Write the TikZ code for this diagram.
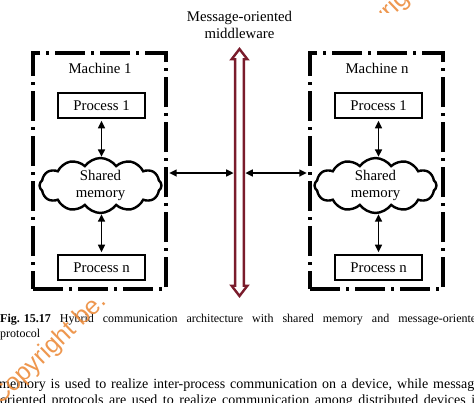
\documentclass[tikz,border=0pt]{standalone}
\usepackage{fontspec}
\setmainfont{Liberation Serif}
\newfontfamily\wmfont{Liberation Sans}
\usetikzlibrary{shapes.symbols,shapes.arrows,arrows.meta}
\definecolor{momred}{RGB}{122,28,44}
\definecolor{wmorange}{RGB}{236,140,60}
\newcommand\dlabelfont{\fontsize{14.8}{17}\selectfont}
\newcommand\dcapfont{\fontsize{12}{14}\selectfont}
\newcommand\dbodyfont{\fontsize{14}{16}\selectfont}
\begin{document}
\begin{tikzpicture}[x=1pt,y=-1pt,
  machine/.style={draw, line width=3.2pt, dash pattern=on 30pt off 6pt on 3pt off 6pt,
    minimum width=133pt, minimum height=236pt, inner sep=0pt},
  proc/.style={draw, line width=2.8pt, minimum width=87pt, minimum height=25pt,
    inner sep=0pt, font=\dlabelfont},
  mem/.style={cloud, draw, line width=2.4pt, cloud puffs=12, cloud puff arc=110,
    aspect=2.3, minimum width=122pt, minimum height=54pt, inner sep=0pt,
    align=center, font=\dlabelfont},
  link/.style={{Triangle[length=7.5pt,width=7pt]}-{Triangle[length=7.5pt,width=7pt]},
    line width=1.5pt},
  plain/.style={inner sep=0pt, font=\dlabelfont, align=center},
  watermark/.style={rotate=44, anchor=base west, inner sep=0pt, text=wmorange,
    opacity=.9, font=\wmfont\fontsize{25}{25}\selectfont},
  textline/.style={anchor=base west, inner sep=0pt}
]
\useasboundingbox (0,0) rectangle (474,402);

% title
\node[plain] (title) at (239.5,24.5) {Message-oriented\\middleware};

% machines
\node[machine] (m1) at (99.5,171) {};
\node[machine] (mn) at (376.5,171) {};
\node[plain] (lab1) at (100,68) {Machine 1};
\node[plain] (labn) at (377,68) {Machine n};

% processes
\node[proc] (p11) at (101.5,105.5) {Process 1};
\node[proc] (p1n) at (101.5,267.5) {Process n};
\node[proc] (pn1) at (378.5,105.5) {Process 1};
\node[proc] (pnn) at (378.5,267.5) {Process n};

% shared memory
\node[mem] (c1) at (100.5,185.5) {Shared\\memory};
\node[mem] (cn) at (375.5,185.5) {Shared\\memory};

% middleware double arrow
\node[double arrow, draw=momred, line width=2.4pt, fill=white, rotate=90,
  minimum height=247pt, inner xsep=0pt, inner ysep=3.2pt,
  double arrow head extend=3.5pt, double arrow tip angle=75] (mom) at (239.5,172.5) {};
\coordinate (barL) at (233.6,173);
\coordinate (barR) at (245.4,173);

% connectors
\draw[link, shorten <=1.4pt] (p11.south) -- (p11.south |- c1.north);
\draw[link, shorten >=1.4pt] (p1n.north |- c1.south) -- (p1n.north);
\draw[link, shorten <=1.4pt] (pn1.south) -- (pn1.south |- cn.north);
\draw[link, shorten >=1.4pt] (pnn.north |- cn.south) -- (pnn.north);
\draw[link, shorten <=1.6pt] (m1.east |- barL) -- (barL);
\draw[link, shorten >=1.6pt] (barR) -- (mn.west |- barR);

% caption
\node[textline, font=\dcapfont] (cap1) at (0,322.5)
  {\hbox to 482pt{\mbox{\textbf{Fig. 15.17}} Hybrid communication architecture with shared memory and message-oriented}};
\node[textline, font=\dcapfont] (cap2) at (0,337) {protocol};

% body text
\node[textline, font=\dbodyfont] (body1) at (-1,388)
  {\hbox to 486pt{memory is used to realize inter-process communication on a device, while message-}};
\node[textline, font=\dbodyfont] (body2) at (0,404)
  {\hbox to 482pt{oriented protocols are used to realize communication among distributed devices in}};

% watermark
\node[watermark] (wm1) at (0,406) {Copyright be.};
\begin{scope}
  \clip (370,0) rectangle (425,12);
  \node[watermark] (wm2) at (348,60) {Copyright be.};
\end{scope}
\end{tikzpicture}
\end{document}
